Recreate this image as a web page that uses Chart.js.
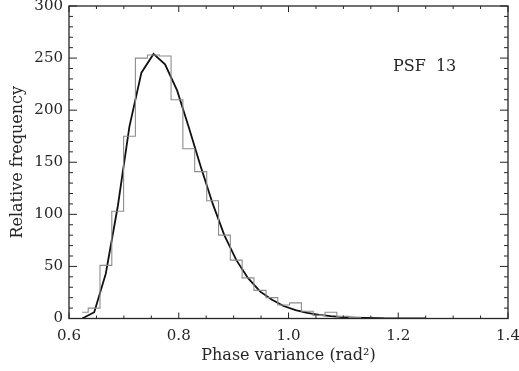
<!DOCTYPE html>
<html><head><meta charset="utf-8">
<script src="https://cdn.jsdelivr.net/npm/chart.js@4/dist/chart.umd.min.js"></script>
<style>html,body{margin:0;padding:0;background:#fff}#wrap{width:519px;height:371px}</style>
</head><body><div id="wrap"><canvas id="c" width="519" height="371"></canvas></div>
<script>
// Bin centres (rad^2) and histogram counts
const binCenters = [0.624, 0.646, 0.667, 0.689, 0.710, 0.732, 0.754, 0.775, 0.797, 0.818,
                    0.840, 0.862, 0.883, 0.905, 0.926, 0.948, 0.970, 0.991, 1.013, 1.034,
                    1.056, 1.077, 1.099, 1.121, 1.142, 1.164, 1.185, 1.207, 1.229, 1.250];
const histCounts = [6, 10, 51, 103, 175, 250, 253, 252, 210, 163,
                    141, 113, 80, 56, 39, 27, 20, 13, 15, 7,
                    3, 6, 2, 1, 0, 0, 1, 1, 1, 1];
// Fitted curve sampled at the same centres
const fitValues = [0, 6, 43, 108, 184, 236, 254, 244, 219, 184,
                   146, 110, 80, 56, 39, 26, 18, 12, 8, 5.5,
                   3.5, 2.2, 1.3, 0.8, 0.5, 0.3, 0.2, 0.1, 0.1, 0.1];
const xTicks = [0.6, 0.8, 1.0, 1.2, 1.4];
const xMinorTicks = [0.65, 0.70, 0.75, 0.85, 0.90, 0.95, 1.05, 1.10, 1.15, 1.25, 1.30, 1.35];
const yTicks = [0, 50, 100, 150, 200, 250, 300];
const yMinorTicks = [10, 20, 30, 40, 60, 70, 80, 90, 110, 120, 130, 140, 160, 170, 180, 190,
                     210, 220, 230, 240, 260, 270, 280, 290];
const panelLabel = 'PSF  13';
const xTitle = 'Phase variance (rad\u00B2)';
const yTitle = 'Relative frequency';

const FONT = 'DejaVu Serif';
const INK = '#262626';

const frame = {
  id: 'frame',
  afterDatasetsDraw(chart) {
    const {ctx, chartArea: a, scales: {x, y}} = chart;
    ctx.save();
    ctx.strokeStyle = INK;
    ctx.lineWidth = 1.3;
    ctx.strokeRect(a.left, a.top, a.right - a.left, a.bottom - a.top);
    ctx.lineWidth = 1;
    const vt = (v, len) => {
      const px = x.getPixelForValue(v);
      ctx.beginPath();
      ctx.moveTo(px, a.bottom); ctx.lineTo(px, a.bottom - len);
      ctx.moveTo(px, a.top); ctx.lineTo(px, a.top + len);
      ctx.stroke();
    };
    const ht = (v, len) => {
      const py = y.getPixelForValue(v);
      ctx.beginPath();
      ctx.moveTo(a.left, py); ctx.lineTo(a.left + len, py);
      ctx.moveTo(a.right, py); ctx.lineTo(a.right - len, py);
      ctx.stroke();
    };
    xTicks.forEach(v => vt(v, 6));
    xMinorTicks.forEach(v => vt(v, 3));
    yTicks.forEach(v => ht(v, 8));
    yMinorTicks.forEach(v => ht(v, 4));
    ctx.fillStyle = INK;
    ctx.font = '16px "' + FONT + '"';
    ctx.textAlign = 'center';
    ctx.textBaseline = 'middle';
    ctx.fillText(panelLabel, a.left + (a.right - a.left) * 0.810, a.top + (a.bottom - a.top) * 0.196);
    ctx.restore();
  }
};

new Chart(document.getElementById('c'), {
  type: 'line',
  data: {
    datasets: [
      {
        label: 'histogram',
        data: binCenters.map((v, i) => ({x: v, y: histCounts[i]})),
        stepped: 'middle',
        borderColor: '#8c8c8c',
        borderWidth: 1.1,
        pointRadius: 0,
        fill: false
      },
      {
        label: 'fit',
        data: binCenters.map((v, i) => ({x: v, y: fitValues[i]})),
        borderColor: '#111',
        borderWidth: 1.8,
        pointRadius: 0,
        tension: 0,
        fill: false
      }
    ]
  },
  options: {
    responsive: false,
    devicePixelRatio: 1,
    animation: false,
    layout: {padding: {left: 0, top: 6, right: 11, bottom: 0}},
    plugins: {legend: {display: false}, tooltip: {enabled: false}},
    scales: {
      x: {
        type: 'linear', min: 0.6, max: 1.4,
        grid: {display: false, drawTicks: false},
        border: {display: false},
        afterBuildTicks(s) { s.ticks = xTicks.map(v => ({value: v})); },
        afterFit(s) { s.height = 52.5; s.paddingLeft = 0; s.paddingRight = 0; },
        ticks: {
          padding: 9, color: INK, maxRotation: 0, autoSkip: false,
          font: {family: FONT, size: 15},
          callback: v => Number(v).toFixed(1)
        },
        title: {display: true, text: xTitle, color: INK, font: {family: FONT, size: 16}, padding: {top: 0, bottom: 6}}
      },
      y: {
        type: 'linear', min: 0, max: 300,
        grid: {display: false, drawTicks: false},
        border: {display: false},
        afterBuildTicks(s) { s.ticks = yTicks.map(v => ({value: v})); },
        afterFit(s) { s.width = 69; s.paddingTop = 0; s.paddingBottom = 0; },
        ticks: {padding: 6, color: INK, font: {family: FONT, size: 15}},
        title: {display: true, text: yTitle, color: INK, font: {family: FONT, size: 16}, padding: {top: 8, bottom: 0}}
      }
    }
  },
  plugins: [frame]
});
</script></body></html>
